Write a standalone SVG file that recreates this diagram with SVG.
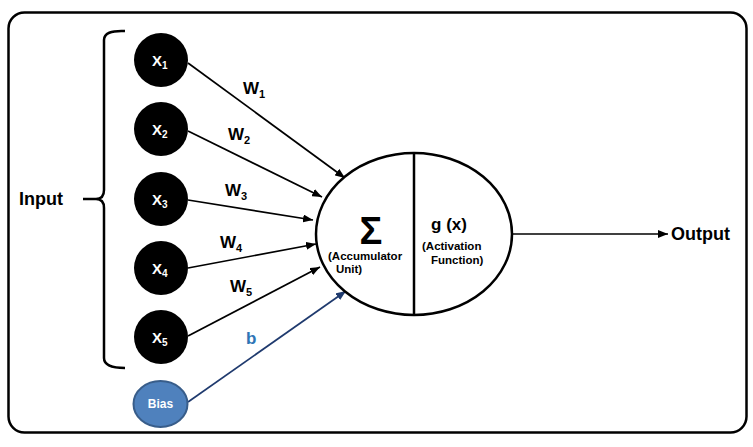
<svg xmlns="http://www.w3.org/2000/svg" width="753" height="447" viewBox="0 0 753 447">
<defs>
<marker id="ah" markerWidth="10" markerHeight="8" refX="10" refY="4" orient="auto" markerUnits="userSpaceOnUse">
<path d="M0,0 L10,4 L0,8 z" fill="#000"/>
</marker>
<marker id="ahb" markerWidth="10" markerHeight="8" refX="10" refY="4" orient="auto" markerUnits="userSpaceOnUse">
<path d="M0,0 L10,4 L0,8 z" fill="#1F3A6E"/>
</marker>
<style>
text{font-family:"Liberation Sans",Arial,sans-serif;font-weight:bold}
.in{fill:#000}
.xl{fill:#fff;font-size:15px}
.sub{font-size:10px}
.ws{font-size:11px}
.w{font-size:17px;fill:#000}
.c{stroke:#000;stroke-width:1.7;fill:none;marker-end:url(#ah)}
.sm{font-size:11.5px}
</style>
</defs>
<rect x="0" y="0" width="753" height="447" fill="#fff"/>
<rect x="8.5" y="12.5" width="738" height="420" rx="16" ry="16" fill="none" stroke="#000" stroke-width="2.5"/>
<path d="M125,31 Q104,30 104,40 L104,190 Q104,199 96,199 L83,199 M96,199 Q104,199 104,208 L104,358 Q104,368 125,368" fill="none" stroke="#000" stroke-width="2.5"/>
<text x="19" y="205" style="font-size:18px">Input</text>
<g id="connectors">
<line class="c" x1="188" y1="63" x2="345" y2="178"/>
<line class="c" x1="188" y1="131" x2="322" y2="197"/>
<line class="c" x1="188" y1="200" x2="313" y2="220"/>
<line class="c" x1="188" y1="268" x2="316" y2="244"/>
<line class="c" x1="188" y1="336" x2="320" y2="267"/>
<line x1="188" y1="402" x2="346" y2="291" stroke="#1F3A6E" stroke-width="1.7" marker-end="url(#ahb)"/>
<line class="c" x1="512" y1="234" x2="668" y2="234"/>
<text class="w" x="243" y="94">W<tspan class="ws" dy="4">1</tspan></text>
<text class="w" x="228" y="140">W<tspan class="ws" dy="4">2</tspan></text>
<text class="w" x="225" y="196">W<tspan class="ws" dy="4">3</tspan></text>
<text class="w" x="220" y="248">W<tspan class="ws" dy="4">4</tspan></text>
<text class="w" x="230" y="292">W<tspan class="ws" dy="4">5</tspan></text>
<text x="246" y="344" style="font-size:17px;fill:#2E75B6">b</text>
</g>
<g id="x1"><circle cx="161" cy="60" r="27" class="in"/><text class="xl" x="152" y="66">X<tspan class="sub" dy="3">1</tspan></text></g>
<g id="x2"><circle cx="161" cy="129" r="27" class="in"/><text class="xl" x="152" y="135">X<tspan class="sub" dy="3">2</tspan></text></g>
<g id="x3"><circle cx="161" cy="199" r="27" class="in"/><text class="xl" x="152" y="205">X<tspan class="sub" dy="3">3</tspan></text></g>
<g id="x4"><circle cx="161" cy="268" r="27" class="in"/><text class="xl" x="152" y="274">X<tspan class="sub" dy="3">4</tspan></text></g>
<g id="x5"><circle cx="161" cy="337" r="27" class="in"/><text class="xl" x="152" y="343">X<tspan class="sub" dy="3">5</tspan></text></g>
<g id="bias"><ellipse cx="160.5" cy="404" rx="27" ry="23" fill="#4F81BD" stroke="#385D8A" stroke-width="2"/><text x="160.5" y="408" text-anchor="middle" style="font-size:12px;fill:#fff">Bias</text></g>
<g id="neuron">
<ellipse cx="414" cy="234" rx="98" ry="81" fill="#fff" stroke="#000" stroke-width="2.5"/>
<line x1="414" y1="153" x2="414" y2="315" stroke="#000" stroke-width="2.5"/>
<text x="371" y="244" text-anchor="middle" style="font-size:38px">Σ</text>
<text class="sm" x="328" y="260">(Accumulator</text>
<text class="sm" x="336" y="273">Unit)</text>
<text x="449" y="230" text-anchor="middle" style="font-size:17px">g (x)</text>
<text class="sm" x="422" y="250">(Activation</text>
<text class="sm" x="431" y="264">Function)</text>
</g>
<g id="output"><text x="671" y="240" style="font-size:18px">Output</text></g>
</svg>
